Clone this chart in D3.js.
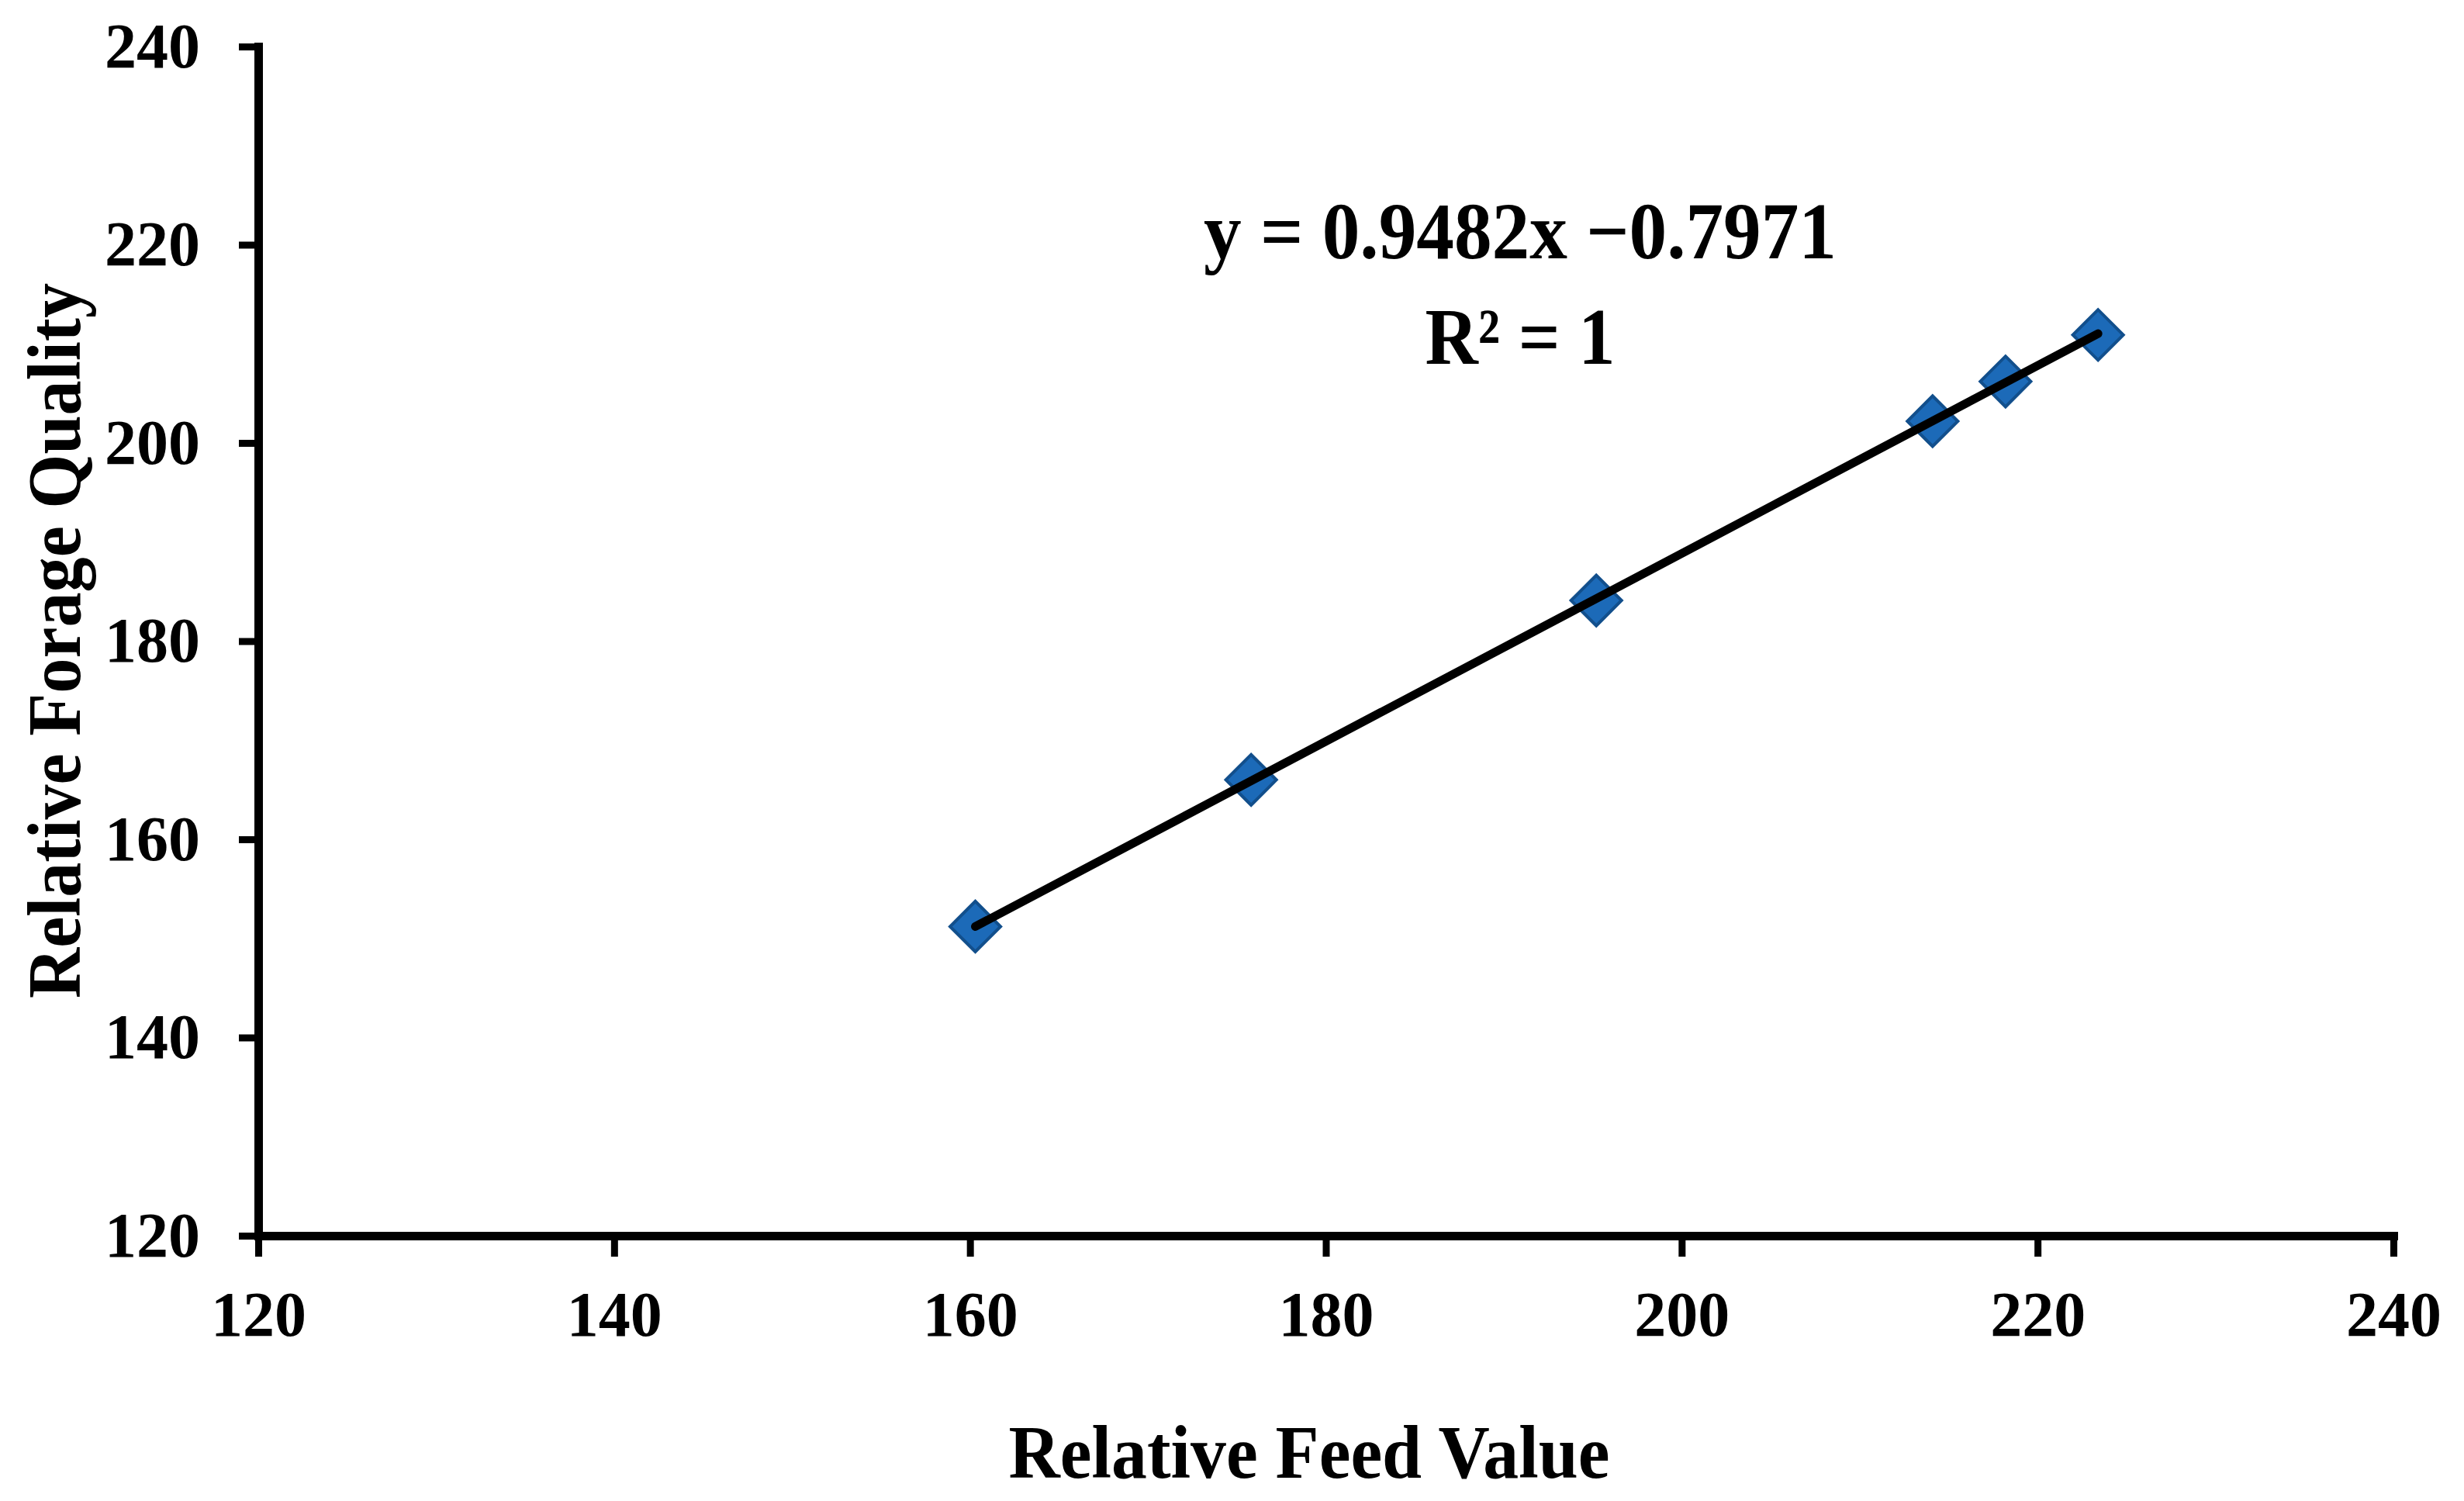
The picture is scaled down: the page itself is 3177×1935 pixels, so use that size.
<!DOCTYPE html>
<html>
<head>
<meta charset="utf-8">
<script src="https://cdn.jsdelivr.net/npm/d3@7/dist/d3.min.js"></script>
<style>
  html, body { margin: 0; padding: 0; background: #ffffff; }
  svg { display: block; }
  text { font-family: "Liberation Serif", "Times New Roman", serif; font-weight: bold; fill: #000; }
</style>
</head>
<body>
<script>
// ---- data ----
const rfv = [160.3, 175.8, 195.2, 214.1, 218.2, 223.4];   // Relative Feed Value (x)
const rfq = [151.2, 166.0, 184.1, 202.2, 206.2, 210.9];   // Relative Forage Quality (y)
const xTicks = [120, 140, 160, 180, 200, 220, 240];
const yTicks = [120, 140, 160, 180, 200, 220, 240];
const slope = 0.9482;
const intercept = -0.7971;
const equationLines = ["y = 0.9482x \u22120.7971", "R\u00B2 = 1"];
const xTitle = "Relative Feed Value";
const yTitle = "Relative Forage Quality";

const W = 3177, H = 1935;
const svg = d3.select("body").append("svg").attr("width", W).attr("height", H);
svg.append("rect").attr("width", W).attr("height", H).attr("fill", "#fff");

const x = d3.scaleLinear().domain([120, 240]).range([333, 3086]);
const y = d3.scaleLinear().domain([120, 240]).range([1593, 60]);

// axes
const xAxis = svg.append("g").attr("transform", `translate(0,${y(120)})`)
  .call(d3.axisBottom(x).tickValues(xTicks).tickSize(27).tickPadding(44).tickSizeOuter(0));
const yAxis = svg.append("g").attr("transform", `translate(${x(120)},0)`)
  .call(d3.axisLeft(y).tickValues(yTicks).tickSize(25).tickPadding(50).tickSizeOuter(0));

[xAxis, yAxis].forEach(g => {
  g.select(".domain").attr("stroke", "#000").attr("stroke-width", 11).attr("stroke-linecap", "square");
  g.selectAll(".tick line").attr("stroke", "#000").attr("stroke-width", 9);
  g.selectAll(".tick text").style("font-size", "82px").style("font-family", '"Liberation Serif", serif').style("font-weight", "bold").attr("fill", "#000");
});

// markers (diamonds)
const pts = rfv.map((v, i) => [v, rfq[i]]);
const diamond = d3.symbol().type(d3.symbolSquare).size(46 * 46);
svg.append("g")
  .selectAll("path.pt").data(pts).enter().append("path")
  .attr("class", "pt")
  .attr("d", diamond)
  .attr("transform", d => `translate(${x(d[0])},${y(d[1])}) rotate(45)`)
  .attr("fill", "#1c6ab8")
  .attr("stroke", "#124f8c")
  .attr("stroke-width", 4);

// trend line over data range (on top of markers)
const xr = d3.extent(rfv);
const trend = xr.map(v => [v, slope * v + intercept]);
svg.append("path")
  .datum(trend)
  .attr("d", d3.line().x(d => x(d[0])).y(d => y(d[1])))
  .attr("stroke", "#000").attr("stroke-width", 11).attr("stroke-linecap", "round").attr("fill", "none");

// equation text
const eqWidths = [816, 245];
svg.append("g").selectAll("text").data(equationLines).enter().append("text")
  .attr("x", 1960)
  .attr("y", (d, i) => 333 + i * 136)
  .attr("text-anchor", "middle")
  .attr("textLength", (d, i) => eqWidths[i])
  .attr("lengthAdjust", "spacingAndGlyphs")
  .style("font-size", "104px")
  .text(d => d);

// axis titles
svg.append("text")
  .attr("x", 1688).attr("y", 1905)
  .attr("text-anchor", "middle")
  .attr("textLength", 775)
  .attr("lengthAdjust", "spacingAndGlyphs")
  .style("font-size", "98px")
  .text(xTitle);

svg.append("text")
  .attr("transform", `translate(103,826) rotate(-90)`)
  .attr("text-anchor", "middle")
  .attr("textLength", 922)
  .attr("lengthAdjust", "spacingAndGlyphs")
  .style("font-size", "98px")
  .text(yTitle);
</script>
</body>
</html>
